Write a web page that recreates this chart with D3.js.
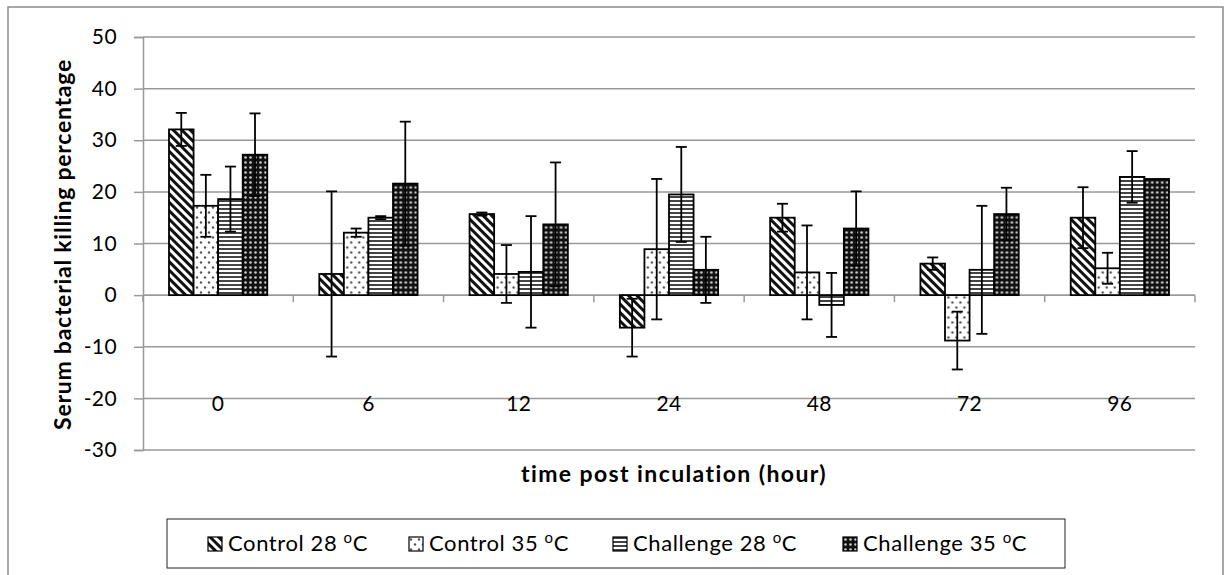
<!DOCTYPE html>
<html>
<head>
<meta charset="utf-8">
<script src="https://cdn.jsdelivr.net/npm/d3@7"></script>
<style>
  html, body { margin: 0; padding: 0; background: #fff; }
  svg { display: block; font-family: Lato, "Open Sans", sans-serif; }
</style>
</head>
<body>
<svg id="chart" width="1225" height="575"></svg>
<script>
// Sampling times (hours post inoculation)
const categories = ["0", "6", "12", "24", "48", "72", "96"];
const seriesNames = ["Control 28", "Control 35", "Challenge 28", "Challenge 35"];

// Mean serum bacterial killing (%) per group
const control28   = [32.1, 4.1, 15.7, -6.3, 15.0, 6.1, 15.0];
const control35   = [17.3, 12.1, 4.1, 8.9, 4.4, -8.8, 5.2];
const challenge28 = [18.6, 15.0, 4.5, 19.5, -1.9, 4.9, 22.9];
const challenge35 = [27.2, 21.6, 13.7, 4.9, 12.9, 15.7, 22.5];

// Standard deviations
const control28Err   = [3.2, 16.0, 0.3, 5.6, 2.7, 1.2, 5.9];
const control35Err   = [6.0, 0.8, 5.6, 13.6, 9.1, 5.6, 3.0];
const challenge28Err = [6.3, 0.3, 10.8, 9.2, 6.2, 12.4, 5.0];
const challenge35Err = [8.0, 12.0, 12.0, 6.4, 7.2, 5.1, 0.0];

const yTicks = [-30, -20, -10, 0, 10, 20, 30, 40, 50];

const values = [control28, control35, challenge28, challenge35];
const errors = [control28Err, control35Err, challenge28Err, challenge35Err];
const patternIds = ["pat-diag", "pat-dots", "pat-hstripe", "pat-grid"];

const svg = d3.select("#chart");

// ---- fill patterns ----
const defs = svg.append("defs");

// wide diagonal stripes
const pDiag = defs.append("pattern").attr("id", "pat-diag")
  .attr("patternUnits", "userSpaceOnUse").attr("width", 6).attr("height", 6)
  .attr("patternTransform", "rotate(-45)");
pDiag.append("rect").attr("width", 6).attr("height", 6).attr("fill", "#fff");
pDiag.append("rect").attr("width", 3).attr("height", 6).attr("fill", "#111");

// sparse dots
const pDots = defs.append("pattern").attr("id", "pat-dots")
  .attr("patternUnits", "userSpaceOnUse").attr("width", 8).attr("height", 10);
pDots.append("rect").attr("width", 8).attr("height", 10).attr("fill", "#fff");
pDots.append("circle").attr("cx", 2).attr("cy", 2.5).attr("r", 1.2).attr("fill", "#555");
pDots.append("circle").attr("cx", 6).attr("cy", 7.5).attr("r", 1.2).attr("fill", "#555");

// horizontal stripes
const pH = defs.append("pattern").attr("id", "pat-hstripe")
  .attr("patternUnits", "userSpaceOnUse").attr("width", 4).attr("height", 4);
pH.append("rect").attr("width", 4).attr("height", 4).attr("fill", "#fff");
pH.append("rect").attr("width", 4).attr("height", 2).attr("fill", "#444");

// dark grid with light dots
const pG = defs.append("pattern").attr("id", "pat-grid")
  .attr("patternUnits", "userSpaceOnUse").attr("width", 5).attr("height", 5);
pG.append("rect").attr("width", 5).attr("height", 5).attr("fill", "#111");
pG.append("circle").attr("cx", 2.5).attr("cy", 2.5).attr("r", 1.3).attr("fill", "#ccc");

// ---- outer frame ----
svg.append("rect").attr("x", 8).attr("y", 7).attr("width", 1215).attr("height", 600)
  .attr("fill", "none").attr("stroke", "#8a8a8a").attr("stroke-width", 1.5);

// ---- scales ----
const left = 143, right = 1195;
const y = d3.scaleLinear().domain([-30, 50]).range([450, 37]);
const x0 = d3.scaleBand().domain(categories).range([left, right]).padding(0);
const bw = x0.bandwidth();
const x1 = d3.scaleBand().domain(seriesNames)
  .range([bw * 0.173, bw * 0.827]).padding(0);

// ---- gridlines ----
svg.append("g").selectAll("line").data(yTicks).join("line")
  .attr("x1", left).attr("x2", right)
  .attr("y1", d => y(d)).attr("y2", d => y(d))
  .attr("stroke", "#999").attr("stroke-width", 1.5);

// ---- y axis (plain hyphen for negatives) ----
const yAxis = svg.append("g").attr("transform", `translate(${left},0)`)
  .call(d3.axisLeft(y).tickValues(yTicks).tickFormat(d => String(d))
    .tickSize(9).tickPadding(17));
yAxis.select(".domain").attr("stroke", "#999").attr("stroke-width", 1.5);
yAxis.selectAll(".tick line").attr("stroke", "#999").attr("stroke-width", 1.5);
yAxis.selectAll(".tick text").attr("font-size", 21).attr("fill", "#000")
  .attr("letter-spacing", 0.4)
  .attr("font-family", "Lato, sans-serif");

// ---- zero line with category ticks ----
svg.append("line").attr("x1", left).attr("x2", right)
  .attr("y1", y(0)).attr("y2", y(0)).attr("stroke", "#999").attr("stroke-width", 1.5);
const boundaries = categories.map(c => x0(c)).concat([right]);
svg.append("g").selectAll("line").data(boundaries).join("line")
  .attr("x1", d => d).attr("x2", d => d)
  .attr("y1", y(0)).attr("y2", y(0) + 7)
  .attr("stroke", "#999").attr("stroke-width", 1.5);

// ---- bars ----
const groups = svg.append("g").selectAll("g").data(categories).join("g")
  .attr("transform", d => `translate(${x0(d)},0)`);

groups.each(function(cat, ci) {
  const g = d3.select(this);
  seriesNames.forEach((s, si) => {
    const v = values[si][ci];
    g.append("rect")
      .attr("x", x1(s)).attr("width", x1.bandwidth())
      .attr("y", y(Math.max(0, v)))
      .attr("height", Math.abs(y(v) - y(0)))
      .attr("fill", `url(#${patternIds[si]})`)
      .attr("stroke", "#000").attr("stroke-width", 1.8);
  });
});

// ---- error bars ----
groups.each(function(cat, ci) {
  const g = d3.select(this);
  seriesNames.forEach((s, si) => {
    const v = values[si][ci], e = errors[si][ci];
    if (e <= 0) return;
    const cx = x1(s) + x1.bandwidth() / 2;
    const eb = g.append("g").attr("stroke", "#000").attr("stroke-width", 1.8);
    eb.append("line").attr("x1", cx).attr("x2", cx).attr("y1", y(v + e)).attr("y2", y(v - e));
    [v + e, v - e].forEach(t => {
      eb.append("line").attr("x1", cx - 5.5).attr("x2", cx + 5.5).attr("y1", y(t)).attr("y2", y(t));
    });
  });
});

// ---- category labels ----
svg.append("g").selectAll("text").data(categories).join("text")
  .attr("x", d => x0(d) + bw / 2).attr("y", 411)
  .attr("text-anchor", "middle").attr("font-size", 21).attr("letter-spacing", 0.4)
  .attr("fill", "#000")
  .text(d => d);

// ---- axis titles ----
svg.append("text").attr("x", (left + right) / 2 + 5).attr("y", 482)
  .attr("text-anchor", "middle").attr("font-size", 23).attr("font-weight", "bold")
  .attr("letter-spacing", 1.4)
  .text("time post inculation (hour)");

svg.append("text")
  .attr("transform", `translate(71,${(y(50) + y(-30)) / 2 + 1}) rotate(-90)`)
  .attr("text-anchor", "middle").attr("font-size", 23).attr("font-weight", "bold")
  .attr("letter-spacing", 0.75)
  .text("Serum bacterial killing percentage");

// ---- legend ----
svg.append("rect").attr("x", 167).attr("y", 519).attr("width", 898).attr("height", 49)
  .attr("fill", "#fff").attr("stroke", "#222").attr("stroke-width", 1);

const legendX = [208, 409, 613, 843];
const legendTemps = ["28", "35", "28", "35"];
const legendLabels = ["Control", "Control", "Challenge", "Challenge"];
const leg = svg.append("g").selectAll("g").data(seriesNames).join("g")
  .attr("transform", (d, i) => `translate(${legendX[i]},537)`);
leg.append("rect").attr("width", 14).attr("height", 14)
  .attr("fill", (d, i) => `url(#${patternIds[i]})`)
  .attr("stroke", "#000").attr("stroke-width", 1.2);
const lt = leg.append("text").attr("x", 20).attr("y", 14).attr("font-size", 22)
  .attr("letter-spacing", 0.6).attr("fill", "#000");
lt.append("tspan").text((d, i) => `${legendLabels[i]} ${legendTemps[i]} `);
lt.append("tspan").attr("dy", -8).attr("font-size", 15).text("o");
lt.append("tspan").attr("dy", 8).text("C");
</script>
</body>
</html>
